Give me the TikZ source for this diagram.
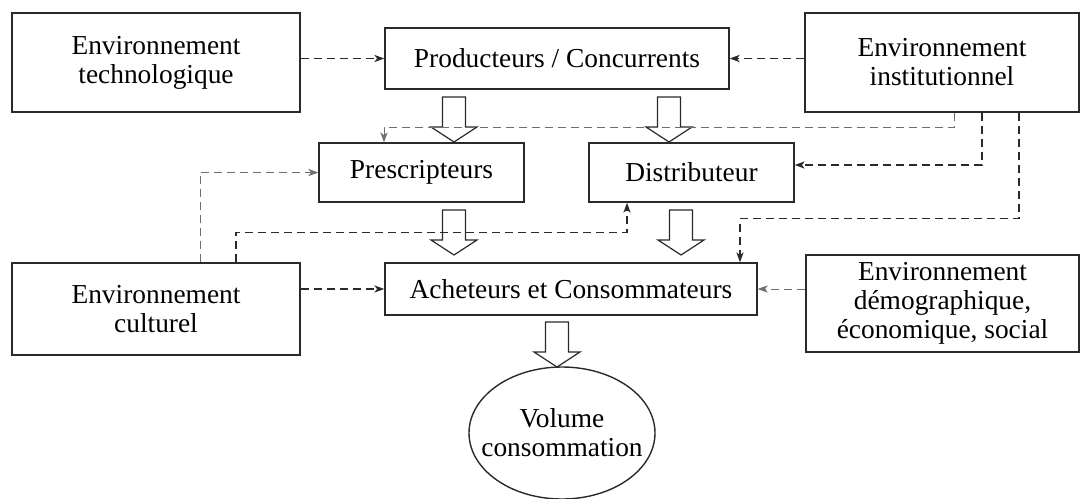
\documentclass[tikz,border=0pt]{standalone}
\usepackage{fontspec}
\setmainfont{Liberation Serif}
\usepackage{tikz}
\usetikzlibrary{arrows.meta, positioning, shapes.geometric, calc}
\definecolor{boxline}{HTML}{2A2A2A}
\definecolor{lightdash}{HTML}{6E6E6E}

% hollow block arrow, #1 = top centre of the shaft
\newcommand{\hollowarrow}[1]{%
  \draw[hollow] #1 ++(-11.5,0) -- ++(0,30) -- ++(-11.5,0) -- ++(23,15)
    -- ++(23,-15) -- ++(-11.5,0) -- ++(0,-30) -- cycle;}

\begin{document}
\begin{tikzpicture}[
  x=0.5pt, y=-0.5pt,
  box/.style={
    rectangle, draw=boxline, line width=0.7pt,
    align=center, inner sep=2pt,
    font=\fontsize{13.7}{14.5}\selectfont
  },
  dline/.style={dashed, dash pattern=on 4pt off 2.5pt, line width=0.6pt,
    color=boxline, -{Stealth[length=5pt, width=3.6pt, inset=1.4pt]}},
  lline/.style={dline, color=lightdash, line width=0.45pt},
  hollow/.style={draw=boxline, line width=0.6pt, fill=white, line join=miter}
]
\useasboundingbox (0,0) rectangle (1080,498);

% Nodes
\node[box, minimum width=144pt, minimum height=49.5pt] (tech) at (156,62.5)
  {Environnement\\technologique};
\node[box, minimum width=172pt, minimum height=30.5pt] (prod) at (557,58.5)
  {Producteurs / Concurrents};
\node[box, minimum width=137pt, minimum height=49.5pt] (inst) at (942,62.5)
  {Environnement\\institutionnel};
\node[box, minimum width=102.5pt, minimum height=29.5pt] (presc) at (421.5,172.5)
  {Prescripteurs};
\node[box, minimum width=102.5pt, minimum height=29.5pt] (distr) at (691.5,172.5)
  {Distributeur};
\node[box, minimum width=186pt, minimum height=26pt] (achet) at (571,289)
  {Acheteurs et Consommateurs};
\node[box, minimum width=144pt, minimum height=46pt] (cult) at (156,309)
  {Environnement\\culturel};
\node[box, minimum width=136.5pt, minimum height=48.5pt] (demo) at (942.5,303.5)
  {Environnement\\démographique,\\économique, social};
\node[box, ellipse, inner xsep=-12pt, inner ysep=0pt,
  minimum width=93pt, minimum height=66pt] (vol) at (562,433)
  {Volume\\consommation};

% Block arrows
\hollowarrow{(454,97)}
\hollowarrow{(669,97)}
\hollowarrow{(454,210)}
\hollowarrow{(681,210)}
\hollowarrow{(557,322)}

% Dashed influences
\draw[dline] (tech.east |- prod.west) -- (prod.west);
\draw[dline] (inst.west |- prod.east) -- (prod.east);
\draw[lline] ([xshift=6pt]inst.south) -- ++(0,15) -| ([xshift=-18.75pt]presc.north);
\draw[dline] ([xshift=20pt]inst.south) |- ([yshift=3.75pt]distr.east);
\draw[dline] ([xshift=38.5pt]inst.south) -- ++(0,106) -| ([xshift=84.5pt]achet.north);
\draw[lline] ([xshift=22pt]cult.north) |- (presc.west);
\draw[dline] ([xshift=40pt]cult.north) -- ++(0,-30) -| ([xshift=-32.25pt]distr.south);
\draw[dline] (cult.east |- achet.west) -- (achet.west);
\draw[lline] (demo.west |- achet.east) -- (achet.east);

\end{tikzpicture}
\end{document}
